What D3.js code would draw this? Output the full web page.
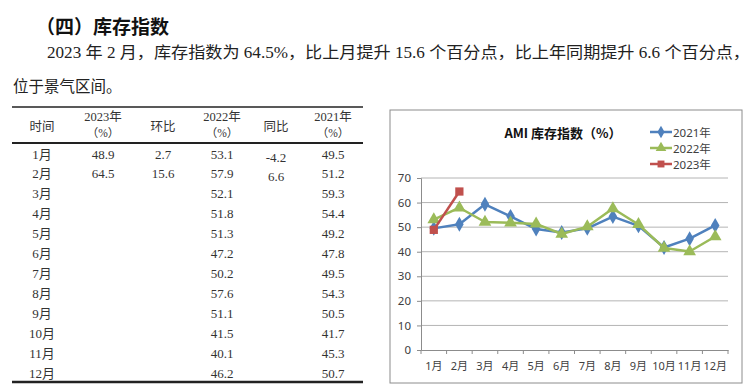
<!DOCTYPE html>
<html><head><meta charset="utf-8">
<script src="https://cdn.jsdelivr.net/npm/d3@7"></script>
<style>
body{margin:0;background:#fff;}
svg{display:block;}
</style></head>
<body>
<svg id="c" width="750" height="391"></svg>
<script>
const months = ["1月","2月","3月","4月","5月","6月","7月","8月","9月","10月","11月","12月"];
const v2021 = [49.5,51.2,59.3,54.4,49.2,47.8,49.5,54.3,50.5,41.7,45.3,50.7];
const v2022 = [53.1,57.9,52.1,51.8,51.3,47.2,50.2,57.6,51.1,41.5,40.1,46.2];
const v2023 = [48.9,64.5];
const mom2023 = ["2.7","15.6"];
const yoy2023 = ["-4.2","6.6"];
const yTicks = [0,10,20,30,40,50,60,70];
const seriesNames = ["2021年","2022年","2023年"];

const svg = d3.select("#c");
const CJK = "'Noto Sans CJK SC', sans-serif";
const SERIF = "'Liberation Serif', 'Noto Sans CJK SC', serif";

// Heading & paragraph
svg.append("text").attr("x",36).attr("y",25).attr("dominant-baseline","central")
  .attr("font-family",CJK).attr("font-weight","bold").attr("font-size",19).attr("fill","#111")
  .text("（四）库存指数");
svg.append("text").attr("x",47).attr("y",52).attr("dominant-baseline","central")
  .attr("font-family",SERIF).attr("font-size",16).attr("fill","#222")
  .attr("textLength",703).attr("lengthAdjust","spacingAndGlyphs")
  .text("2023 年 2 月，库存指数为 64.5%，比上月提升 15.6 个百分点，比上年同期提升 6.6 个百分点，");
svg.append("text").attr("x",13).attr("y",86).attr("dominant-baseline","central")
  .attr("font-family",SERIF).attr("font-size",15.5).attr("fill","#222")
  .text("位于景气区间。");

// Table
const tb = svg.append("g");
const cols = [42,103,163,222,276,333];
tb.append("line").attr("x1",12).attr("x2",363).attr("y1",107).attr("y2",107).attr("stroke","#222").attr("stroke-width",1.5);
tb.append("line").attr("x1",12).attr("x2",363).attr("y1",143).attr("y2",143).attr("stroke","#222").attr("stroke-width",2);
tb.append("line").attr("x1",12).attr("x2",363).attr("y1",382).attr("y2",382).attr("stroke","#222").attr("stroke-width",2.5);
const hdr = [["时间"],["2023年","（%）"],["环比"],["2022年","（%）"],["同比"],["2021年","（%）"]];
hdr.forEach((h,i)=>{
  if(h.length===1){
    tb.append("text").attr("x",cols[i]).attr("y",127).attr("text-anchor","middle").attr("dominant-baseline","central")
      .attr("font-family",SERIF).attr("font-size",12.5).attr("fill","#333").text(h[0]);
  } else {
    tb.append("text").attr("x",cols[i]).attr("y",117).attr("text-anchor","middle").attr("dominant-baseline","central")
      .attr("font-family",SERIF).attr("font-size",12.5).attr("fill","#333").text(h[0]);
    tb.append("text").attr("x",cols[i]).attr("y",133).attr("text-anchor","middle").attr("dominant-baseline","central")
      .attr("font-family",SERIF).attr("font-size",11.5).attr("fill","#333").text(h[1]);
  }
});
const rowY = d3.scaleLinear().domain([0,11]).range([154,373]);
months.forEach((m,i)=>{
  const y = rowY(i);
  const cell = (x,t,dy=0)=>tb.append("text").attr("x",x).attr("y",y+dy).attr("text-anchor","middle").attr("dominant-baseline","central")
      .attr("font-family",SERIF).attr("font-size",13).attr("fill","#333").text(t);
  cell(cols[0],m);
  if(i<v2023.length){ cell(cols[1],v2023[i].toFixed(1)); cell(cols[2],mom2023[i]); cell(cols[4],yoy2023[i],3); }
  cell(cols[3],v2022[i].toFixed(1));
  cell(cols[5],v2021[i].toFixed(1));
});

// Chart
const ch = svg.append("g");
ch.append("rect").attr("x",390).attr("y",110).attr("width",352).attr("height",273)
  .attr("fill","#fff").attr("stroke","#8c8c8c").attr("stroke-width",1);
const x = d3.scaleBand().domain(months).range([421,728]);
const y = d3.scaleLinear().domain([0,70]).range([350,178]);
const AX = "'Noto Sans', 'Noto Sans CJK SC', sans-serif";

// gridlines
ch.append("g").selectAll("line").data(yTicks.filter(d=>d>0)).join("line")
  .attr("x1",421).attr("x2",728).attr("y1",d=>y(d)).attr("y2",d=>y(d))
  .attr("stroke","#b4b4b4").attr("stroke-width",1);

// y axis
const ya = ch.append("g").attr("transform","translate(421,0)").call(d3.axisLeft(y).tickValues(yTicks).tickSize(4).tickPadding(6));
ya.select(".domain").attr("stroke","#8c8c8c");
ya.selectAll(".tick line").attr("stroke","#8c8c8c");
ya.selectAll(".tick text").attr("font-family",AX).attr("font-size",11.5).attr("fill","#404040");

// x axis
const xa = ch.append("g").attr("transform","translate(0,350)").call(d3.axisBottom(x).tickSize(0).tickPadding(12));
xa.select(".domain").attr("stroke","#8c8c8c");
xa.selectAll(".tick text").attr("font-family",AX).attr("font-size",11).attr("fill","#404040");
ch.append("g").selectAll("line").data(d3.range(13)).join("line")
  .attr("x1",i=>421+i*x.step()).attr("x2",i=>421+i*x.step()).attr("y1",350).attr("y2",354)
  .attr("stroke","#8c8c8c");

// Series
const colors = ["#4F81BD","#9BBB59","#C0504D"];
const data = [v2021,v2022,v2023];
const symbols = [d3.symbolDiamond, d3.symbolTriangle, d3.symbolSquare];
const sizes = [64,70,68];
const line = d3.line().x((d,i)=>x(months[i])+x.bandwidth()/2).y(d=>y(d));
data.forEach((vals,s)=>{
  ch.append("path").attr("d",line(vals)).attr("fill","none").attr("stroke",colors[s]).attr("stroke-width",2.5).attr("stroke-linejoin","round");
  ch.append("g").selectAll("path").data(vals).join("path")
    .attr("transform",(d,i)=>`translate(${x(months[i])+x.bandwidth()/2},${y(d)})`)
    .attr("d",d3.symbol().type(symbols[s]).size(sizes[s]))
    .attr("fill",colors[s]);
});

// Title
ch.append("text").attr("x",563).attr("y",132).attr("text-anchor","middle").attr("dominant-baseline","central")
  .attr("font-family",CJK).attr("font-weight","bold").attr("font-size",13).attr("fill","#111")
  .text("AMI 库存指数（%）");

// Legend
const legY = [132,148,164];
seriesNames.forEach((n,s)=>{
  const g = ch.append("g");
  g.append("line").attr("x1",650).attr("x2",672).attr("y1",legY[s]).attr("y2",legY[s]).attr("stroke",colors[s]).attr("stroke-width",2.5);
  g.append("path").attr("transform",`translate(661,${legY[s]})`).attr("d",d3.symbol().type(symbols[s]).size(sizes[s]*0.7)).attr("fill",colors[s]);
  g.append("text").attr("x",673).attr("y",legY[s]).attr("dominant-baseline","central")
    .attr("font-family",AX).attr("font-size",11.5).attr("fill","#404040").text(n);
});
</script>
</body></html>
